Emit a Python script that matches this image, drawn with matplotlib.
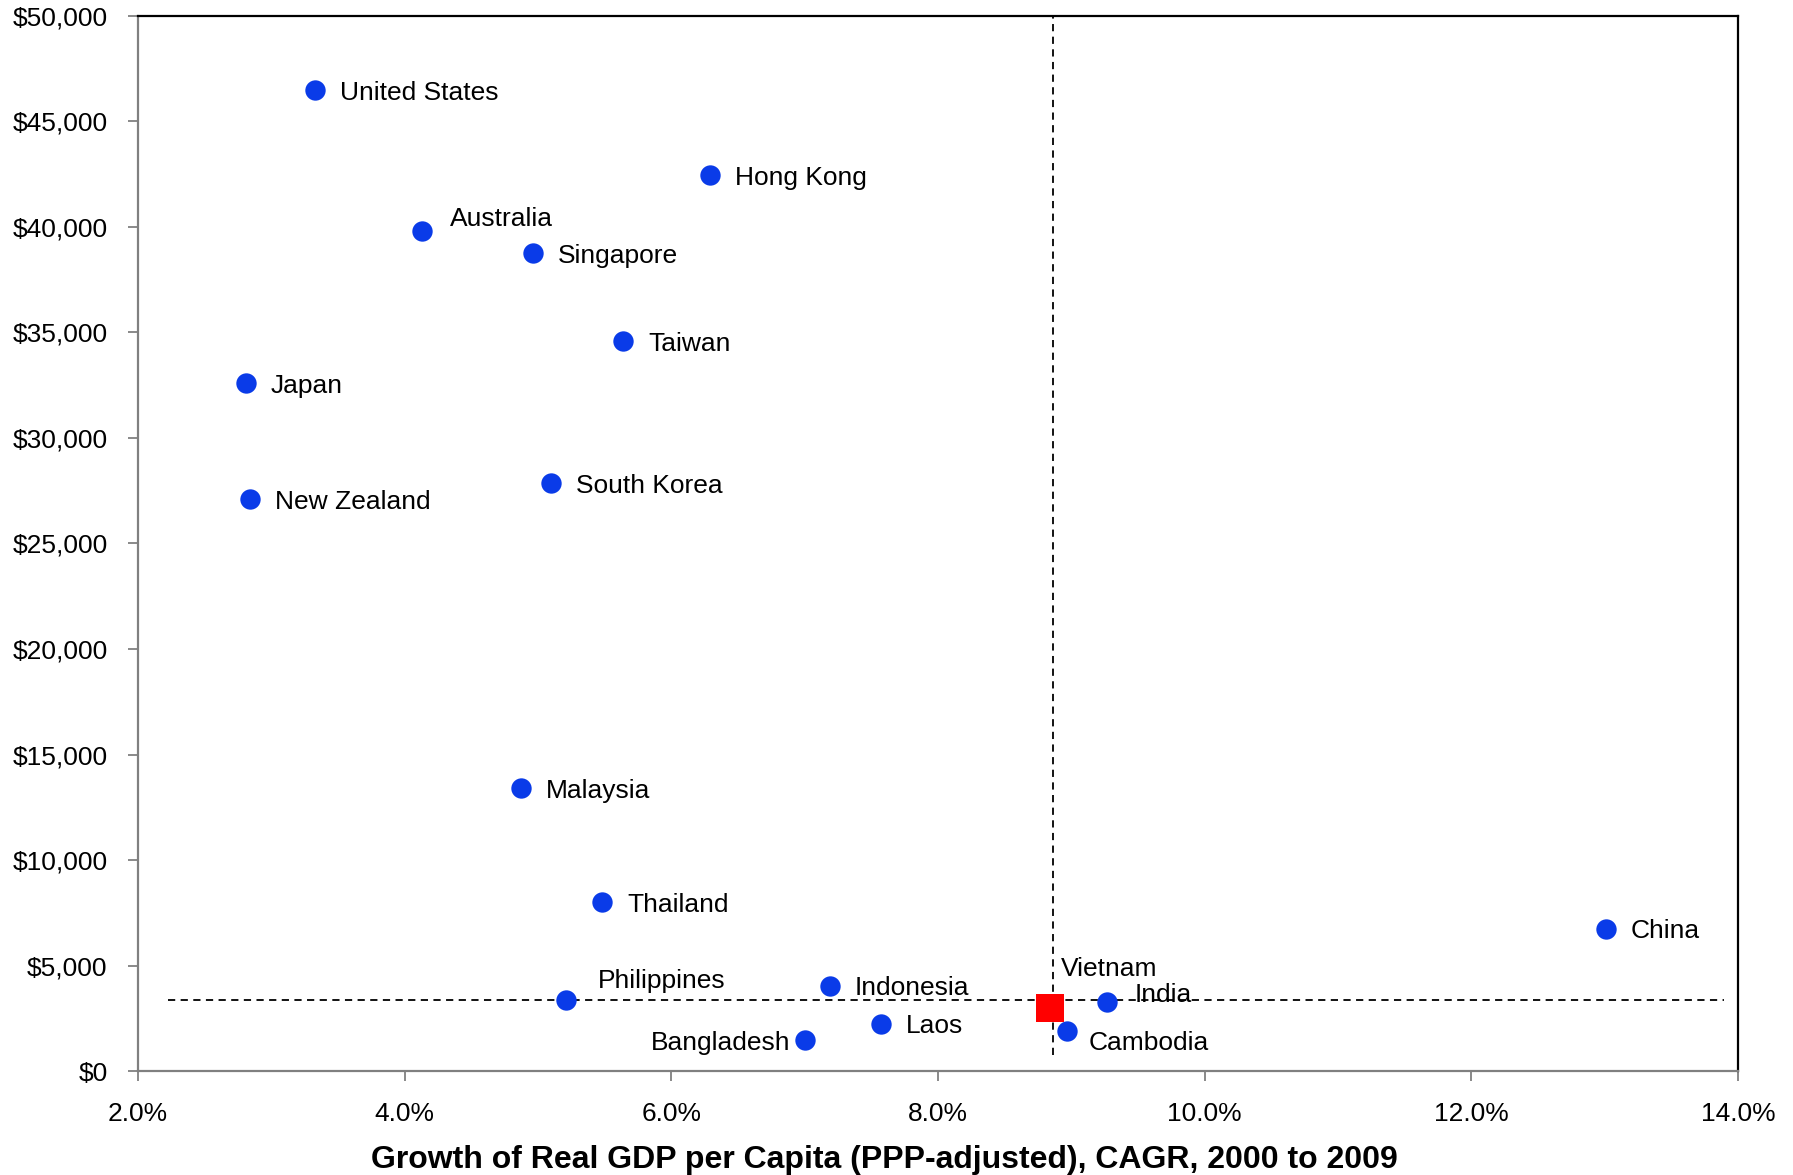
import matplotlib

matplotlib.use("Agg")
import matplotlib.pyplot as plt
from matplotlib.ticker import FuncFormatter

plt.rcParams["font.family"] = ["Liberation Sans", "DejaVu Sans"]

# GDP per capita growth (CAGR %, 2000-2009) vs GDP per capita (PPP, USD)
countries = [
    "United States", "Hong Kong", "Australia", "Singapore", "Taiwan",
    "Japan", "New Zealand", "South Korea", "Malaysia", "Thailand",
    "China", "Philippines", "Indonesia", "Laos", "Bangladesh",
    "India", "Cambodia",
]
growth = [3.33, 6.29, 4.13, 4.96, 5.64, 2.81, 2.84, 5.10, 4.87, 5.48,
          13.01, 5.21, 7.19, 7.57, 7.00, 9.27, 8.97]
gdp = [46500, 42450, 39800, 38750, 34600, 32600, 27100, 27850, 13400, 8000,
       6750, 3350, 4050, 2250, 1450, 3250, 1900]

highlight_name = "Vietnam"
highlight_growth = 8.84
highlight_gdp = 3000

avg_growth = 8.86
avg_gdp = 3350

x_ticks = [2, 4, 6, 8, 10, 12, 14]
y_ticks = list(range(0, 50001, 5000))

# label offsets in points (dx, dy, horizontal alignment)
label_offsets = {
    "Australia": (20, 9, "left"),
    "Philippines": (23, 14, "left"),
    "Bangladesh": (-10, -2, "right"),
    "India": (20, 5, "left"),
    "Cambodia": (15, -9, "left"),
}
default_offset = (18, -2, "left")

fig = plt.figure(figsize=(17.93, 11.75), dpi=100)
ax = fig.add_axes([0.077, 0.0885, 0.8923, 0.8979])

ax.axvline(avg_growth, ymin=0.015, ymax=1, color="black", lw=1.3,
           ls=(0, (4, 3)), zorder=1)
ax.axhline(avg_gdp, xmin=0.019, xmax=0.991, color="black", lw=1.3,
           ls=(0, (4, 3)), zorder=1)

ax.scatter(growth, gdp, s=215, color="#0a3be8", zorder=3, linewidths=0)
ax.scatter([highlight_growth], [highlight_gdp], s=420, marker="s",
           color="#ff0000", zorder=3, linewidths=0)

for name, x, y in zip(countries, growth, gdp):
    dx, dy, ha = label_offsets.get(name, default_offset)
    ax.annotate(name, (x, y), xytext=(dx, dy), textcoords="offset points",
                ha=ha, va="center", fontsize=19, zorder=4)
ax.annotate(highlight_name, (highlight_growth, highlight_gdp), xytext=(8, 28),
            textcoords="offset points", ha="left", va="center", fontsize=19,
            zorder=4)

ax.set_xlim(2, 14)
ax.set_ylim(0, 50000)
ax.set_xticks(x_ticks)
ax.set_yticks(y_ticks)
ax.xaxis.set_major_formatter(FuncFormatter(lambda v, _: f"{v:.1f}%"))
ax.yaxis.set_major_formatter(FuncFormatter(lambda v, _: f"${v:,.0f}"))

ax.tick_params(axis="both", direction="out", length=7, width=1.3,
               color="#808080", labelsize=19)
ax.tick_params(axis="y", pad=15)
ax.tick_params(axis="x", pad=15)

for side in ("left", "bottom"):
    ax.spines[side].set_color("#808080")
    ax.spines[side].set_linewidth(1.6)
for side in ("top", "right"):
    ax.spines[side].set_color("black")
    ax.spines[side].set_linewidth(1.6)

ax.set_xlabel("Growth of Real GDP per Capita (PPP-adjusted), CAGR, 2000 to 2009",
              fontsize=23, fontweight="bold", labelpad=14)
ax.xaxis.label.set_x(0.4665)

fig.savefig("out.png", dpi=100)
